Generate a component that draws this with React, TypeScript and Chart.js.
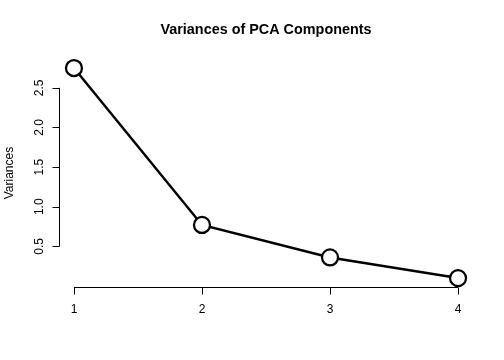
import React, { useEffect, useRef } from "react";
import { Chart, registerables } from "chart.js";

Chart.register(...registerables);

const components = [1, 2, 3, 4];
const variances = [2.75, 0.77, 0.36, 0.1];
const yTicks = [0.5, 1.0, 1.5, 2.0, 2.5];
const yTickLabels = ["0.5", "1.0", "1.5", "2.0", "2.5"];
const xTicks = [1, 2, 3, 4];
const xTickLabels = ["1", "2", "3", "4"];
const titleText = "Variances of PCA Components";
const yAxisTitle = "Variances";

const FONT = '"Liberation Sans", Arial, Helvetica, sans-serif';

const axesPlugin = {
  id: "rAxes",
  afterDraw(chart: any) {
    const ctx = chart.ctx as CanvasRenderingContext2D;
    const xs = chart.scales.x;
    const ys = chart.scales.y;
    const area = chart.chartArea;
    ctx.save();
    ctx.strokeStyle = "#000";
    ctx.fillStyle = "#000";
    ctx.lineWidth = 1;

    // x axis
    const axY = Math.round(area.bottom) + 0.5;
    const x0 = xs.getPixelForValue(xTicks[0]);
    const x1 = xs.getPixelForValue(xTicks[xTicks.length - 1]);
    ctx.beginPath();
    ctx.moveTo(x0, axY);
    ctx.lineTo(x1, axY);
    xTicks.forEach((t) => {
      const px = Math.round(xs.getPixelForValue(t)) + 0.5;
      ctx.moveTo(px, axY);
      ctx.lineTo(px, axY + 7);
    });
    ctx.stroke();
    ctx.font = `12px ${FONT}`;
    ctx.textAlign = "center";
    ctx.textBaseline = "middle";
    xTicks.forEach((t, i) => {
      ctx.fillText(xTickLabels[i], xs.getPixelForValue(t), axY + 22);
    });

    // y axis
    const axX = Math.round(area.left) + 0.5;
    const y0 = ys.getPixelForValue(yTicks[0]);
    const y1 = ys.getPixelForValue(yTicks[yTicks.length - 1]);
    ctx.beginPath();
    ctx.moveTo(axX, y0);
    ctx.lineTo(axX, y1);
    yTicks.forEach((t) => {
      const py = Math.round(ys.getPixelForValue(t)) + 0.5;
      ctx.moveTo(axX, py);
      ctx.lineTo(axX - 7, py);
    });
    ctx.stroke();
    yTicks.forEach((t, i) => {
      ctx.save();
      ctx.translate(axX - 19.5, ys.getPixelForValue(t));
      ctx.rotate(-Math.PI / 2);
      ctx.textAlign = "center";
      ctx.textBaseline = "middle";
      ctx.fillText(yTickLabels[i], 0, 0);
      ctx.restore();
    });

    // y axis title
    ctx.save();
    ctx.translate(10, (area.top + area.bottom) / 2);
    ctx.rotate(-Math.PI / 2);
    ctx.textAlign = "center";
    ctx.textBaseline = "middle";
    ctx.fillText(yAxisTitle, 0, 0);
    ctx.restore();

    // main title
    ctx.font = `bold 14.4px ${FONT}`;
    ctx.textAlign = "center";
    ctx.textBaseline = "middle";
    ctx.fillText(titleText, (area.left + area.right) / 2, 30);
    ctx.restore();
  },
};

export default function App() {
  const ref = useRef<HTMLCanvasElement>(null);
  useEffect(() => {
    if (!ref.current) return;
    const ymin = Math.min(...variances);
    const ymax = Math.max(...variances);
    const yr = ymax - ymin;
    const xr = components[components.length - 1] - components[0];
    const chart = new Chart(ref.current, {
      type: "line",
      data: {
        datasets: [
          {
            data: components.map((c, i) => ({ x: c, y: variances[i] })),
            borderColor: "#000",
            borderWidth: 2.5,
            pointRadius: 8,
            pointBorderWidth: 2.25,
            pointBackgroundColor: "#fff",
            pointBorderColor: "#000",
            tension: 0,
            clip: false as any,
          },
        ],
      },
      options: {
        responsive: false,
        animation: false,
        events: [],
        layout: { padding: { left: 58.6, right: 30.6, top: 59.6, bottom: 73.5 } },
        plugins: { legend: { display: false }, tooltip: { enabled: false }, title: { display: false } },
        scales: {
          x: {
            type: "linear",
            display: false,
            min: components[0] - 0.04 * xr,
            max: components[components.length - 1] + 0.04 * xr,
          },
          y: {
            type: "linear",
            display: false,
            min: ymin - 0.04 * yr,
            max: ymax + 0.04 * yr,
          },
        },
      },
      plugins: [axesPlugin],
    });
    return () => chart.destroy();
  }, []);
  return (
    <div style={{ position: "absolute", left: 0, top: 0, width: 504, height: 360, background: "#fff" }}>
      <canvas ref={ref} width={504} height={360} style={{ width: 504, height: 360 }} />
    </div>
  );
}
